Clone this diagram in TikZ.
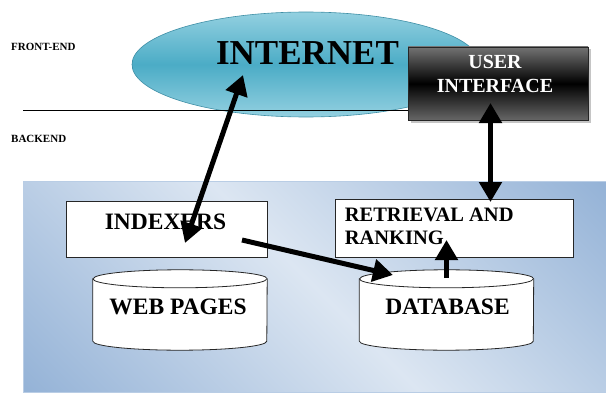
\documentclass[tikz,border=0pt]{standalone}
\usepackage{fontspec}
\setmainfont{Liberation Serif}
\usetikzlibrary{shapes.geometric,arrows.meta,shadows}

\definecolor{panellight}{HTML}{DCE6F2}
\definecolor{paneldark}{HTML}{95B3D7}
\definecolor{panelline}{HTML}{B9CDE5}
\definecolor{netlight}{HTML}{93D0E0}
\definecolor{netmid}{HTML}{4BACC6}
\definecolor{netline}{HTML}{3F8FA6}

% light band from top left to bottom right, darker in the two other corners
\pgfdeclarehorizontalshading{panelshade}{100bp}{color(0bp)=(paneldark); color(15bp)=(paneldark);
    color(50bp)=(panellight); color(85bp)=(paneldark); color(100bp)=(paneldark)}

\begin{document}
\begin{tikzpicture}[
    x=1pt, y=1pt,
    side/.style={font=\fontsize{11}{13}\selectfont\bfseries,anchor=west,inner sep=0pt},
    netblob/.style={ellipse,draw=netline,line width=0.6pt,top color=netlight,bottom color=netlight,
        middle color=netmid,minimum width=348pt,minimum height=105pt,inner sep=0pt},
    uibox/.style={rectangle,draw=black!85,line width=0.8pt,top color=black!55,bottom color=black!60,
        middle color=black,minimum width=180pt,minimum height=73pt,
        drop shadow={shadow xshift=2.5pt,shadow yshift=-2.5pt,fill=black!45}},
    box/.style={rectangle,draw=black!85,line width=0.8pt,fill=white,inner sep=0pt},
    store/.style={rectangle,minimum width=174pt,minimum height=80pt,inner sep=0pt},
    storeline/.style={draw=black!85,line width=0.8pt,fill=white},
    boxtext/.style={inner sep=0pt,font=\fontsize{23.5}{26}\selectfont\bfseries},
    arrow/.style={line width=5pt,-{Triangle[width=22pt,length=20pt]}},
    twoway/.style={line width=5pt,{Triangle[width=22pt,length=20pt]}-{Triangle[width=22pt,length=20pt]}}
]
    \useasboundingbox (0,0) rectangle (606,392);

    % Backend panel
    \shade[shading=panelshade,shading angle=45,draw=panelline,line width=0.6pt] (23,0) rectangle (606,211);

    %%%%%%%%%%%%%%%%%%%%%%%%%%%%%%%%%%%%%%%%%%%%%%%%%%%%%%%%%%%%%%%%%%%%%%%%%%%%%%%%%%%%

    % Front-end
    \node[netblob] (inet) at (306,327.5) {};
    \node[font=\fontsize{35}{40}\selectfont\bfseries,inner sep=0pt] (inettext)
        at ([shift={(1.5pt,11pt)}]inet.center) {INTERNET};

    \draw[line width=0.8pt] (23,282) -- (410,282);
    \node[side] (front) at (11,345) {FRONT-END};
    \node[side] (back) at (11,253) {BACKEND};

    \node[uibox] (ui) at (498,308.5) {};
    \node[font=\fontsize{20}{24}\selectfont\bfseries,text=white,align=center,inner sep=0pt] (uitext)
        at ([shift={(-3pt,9.5pt)}]ui.center) {USER\\INTERFACE};

    %%%%%%%%%%%%%%%%%%%%%%%%%%%%%%%%%%%%%%%%%%%%%%%%%%%%%%%%%%%%%%%%%%%%%%%%%%%%%%%%%%%%

    % Backend
    \node[box,minimum width=201pt,minimum height=56pt] (idx) at (166.5,163) {};
    \node[boxtext] (idxtext) at ([shift={(-1pt,7pt)}]idx.center) {INDEXERS};

    \node[box,minimum width=238pt,minimum height=58pt] (rr) at (454,164) {};
    \node[inner sep=0pt,anchor=north west,align=left,font=\fontsize{20.5}{23.5}\selectfont\bfseries] (rrtext)
        at ([shift={(10pt,-9pt)}]rr.north west) {RETRIEVAL AND\\RANKING};

    % Stores, drawn as cylinders round their nodes
    \node[store] (web) at (180,82) {};
    \node[store] (db) at (446.5,82) {};
    \foreach \s in {web,db} {
        \filldraw[storeline] ([yshift=-9pt]\s.north west) -- ([yshift=9pt]\s.south west)
            arc[start angle=180,end angle=360,x radius=87pt,y radius=9pt]
            -- ([yshift=-9pt]\s.north east)
            arc[start angle=0,end angle=180,x radius=87pt,y radius=9pt] -- cycle;
        \draw[storeline] ([yshift=-9pt]\s.north west)
            arc[start angle=180,end angle=360,x radius=87pt,y radius=9pt];
    }
    \node[boxtext] (webtext) at ([shift={(-2pt,3pt)}]web.center) {WEB PAGES};
    \node[boxtext] (dbtext) at ([shift={(1pt,3pt)}]db.center) {DATABASE};

    % Arrows
    \draw[twoway] ([shift={(-63pt,-10.5pt)}]inet.center) -- ([shift={(18.5pt,-14pt)}]idx.center);
    \draw[twoway] ([shift={(-7.5pt,-19.5pt)}]ui.center) -- ([shift={(36.5pt,26pt)}]rr.center);
    \draw[arrow] ([shift={(75.5pt,-11pt)}]idx.center) -- ([shift={(-53.5pt,35pt)}]db.center);
    \draw[arrow] ([shift={(0pt,32pt)}]db.center) -- ([shift={(-7.5pt,-12pt)}]rr.center);
\end{tikzpicture}
\end{document}
